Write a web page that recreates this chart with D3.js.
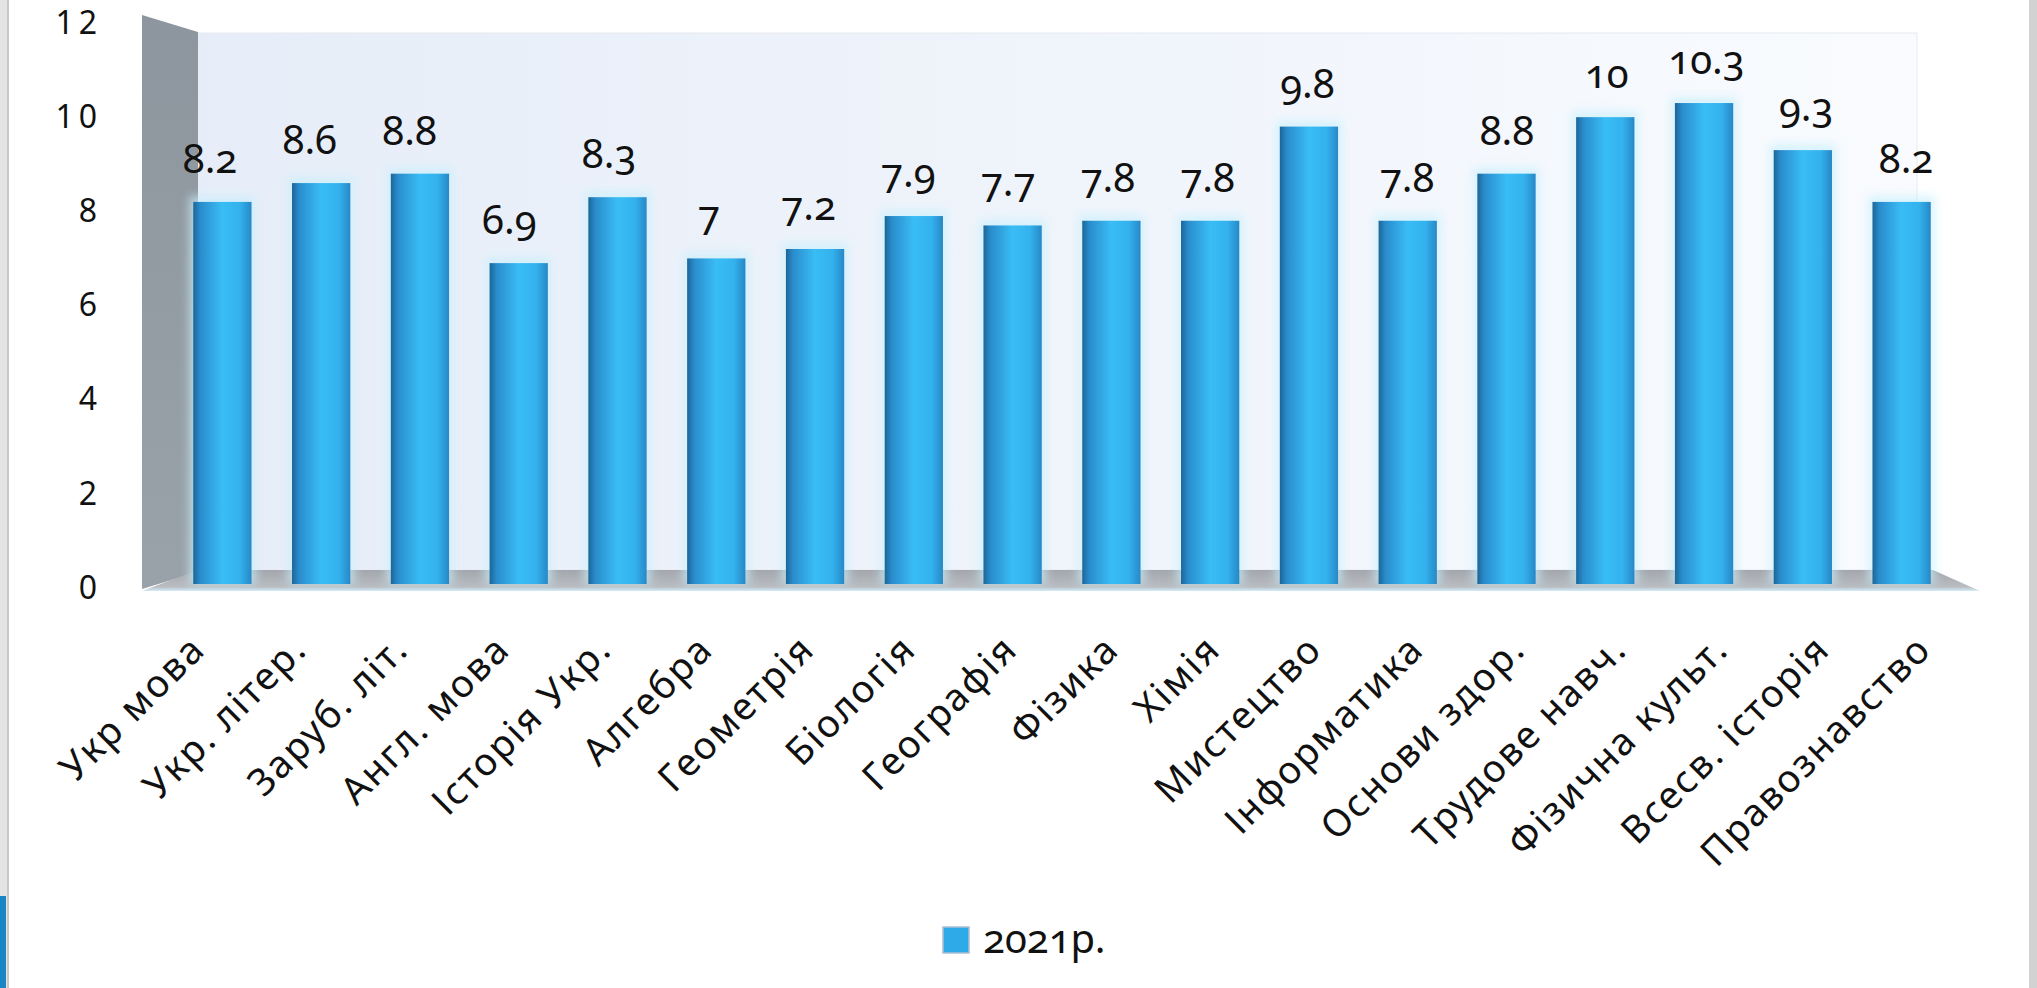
<!DOCTYPE html>
<html>
<head>
<meta charset="utf-8">
<script src="https://cdn.jsdelivr.net/npm/d3@7/dist/d3.min.js"></script>
<style>
  body { margin: 0; background: #fff; }
  text { font-family: "Noto Sans", "Open Sans", sans-serif; fill: #111; }
  .onum { font-variant-numeric: oldstyle-nums; }
</style>
</head>
<body>
<div id="chart"></div>
<script>
// Chart data
var subjects = ["Укр мова", "Укр. літер.", "Заруб. літ.", "Англ. мова", "Історія Укр.",
  "Алгебра", "Геометрія", "Біологія", "Географія", "Фізика", "Хімія", "Мистецтво",
  "Інформатика", "Основи здор.", "Трудове навч.", "Фізична культ.", "Всесв. історія",
  "Правознавство"];
var scores2021 = [8.2, 8.6, 8.8, 6.9, 8.3, 7, 7.2, 7.9, 7.7, 7.8, 7.8, 9.8, 7.8, 8.8, 10, 10.3, 9.3, 8.2];
var yTicks = [0, 2, 4, 6, 8, 10, 12];
var seriesName = "2021р.";

// SVG area
var svgWidth = 2037;
var svgHeight = 988;

var svg = d3.select("#chart")
  .append("svg")
  .attr("width", svgWidth)
  .attr("height", svgHeight);

var defs = svg.append("defs");

// cylinder-ish shading for the bars
var barGrad = defs.append("linearGradient").attr("id", "barGrad")
  .attr("x1", "0%").attr("x2", "100%").attr("y1", "0%").attr("y2", "0%");
[["0%", "#1b6698"], ["12%", "#2a8ccc"], ["50%", "#39bdf5"], ["80%", "#33b2ee"], ["100%", "#2788c6"]]
  .forEach(function(s) { barGrad.append("stop").attr("offset", s[0]).attr("stop-color", s[1]); });

var wallGrad = defs.append("linearGradient").attr("id", "wallGrad")
  .attr("x1", "0%").attr("x2", "100%");
wallGrad.append("stop").attr("offset", "0%").attr("stop-color", "#e6edf8");
wallGrad.append("stop").attr("offset", "100%").attr("stop-color", "#f9fbfe");

var sideGrad = defs.append("linearGradient").attr("id", "sideGrad")
  .attr("x1", "0%").attr("x2", "0%").attr("y1", "0%").attr("y2", "100%");
sideGrad.append("stop").attr("offset", "0%").attr("stop-color", "#8d969e");
sideGrad.append("stop").attr("offset", "100%").attr("stop-color", "#9aa2a9");

var floorGrad = defs.append("linearGradient").attr("id", "floorGrad")
  .attr("x1", "0%").attr("x2", "0%").attr("y1", "0%").attr("y2", "100%");
floorGrad.append("stop").attr("offset", "0%").attr("stop-color", "#a3a7ad");
floorGrad.append("stop").attr("offset", "80%").attr("stop-color", "#b9bdc2");
floorGrad.append("stop").attr("offset", "100%").attr("stop-color", "#d3ecf8");

defs.append("filter").attr("id", "glow")
  .attr("x", "-30%").attr("y", "-10%").attr("width", "160%").attr("height", "120%")
  .append("feGaussianBlur").attr("stdDeviation", 5);

// Scales
var yScale = d3.scaleLinear().domain([0, 12]).range([588, 23]);

var xScale = d3.scaleBand()
  .domain(subjects)
  .range([173, 1951])
  .paddingInner(0.41)
  .paddingOuter(0.205);

// 3D front edge sits a bit wider than the back, so labels spread a little
var xValueLabel = d3.scalePoint().domain(subjects).range([210, 1906]);
var xCatLabel = d3.scalePoint().domain(subjects).range([198, 1924]);

// page borders
svg.append("rect").attr("x", 0).attr("y", 0).attr("width", 8).attr("height", svgHeight).attr("fill", "#e4e4e4");
svg.append("rect").attr("x", 7).attr("y", 0).attr("width", 2).attr("height", svgHeight).attr("fill", "#c9c9c9");
svg.append("rect").attr("x", 0).attr("y", 896).attr("width", 6).attr("height", 92).attr("fill", "#1b86c6");
svg.append("rect").attr("x", 2029).attr("y", 0).attr("width", 8).attr("height", svgHeight).attr("fill", "#d2d2d2");

// back wall, side wall, floor
svg.append("rect")
  .attr("x", 198).attr("y", 33)
  .attr("width", 1917 - 198).attr("height", 570 - 33)
  .attr("fill", "url(#wallGrad)")
  .attr("stroke", "#e6eaf0").attr("stroke-width", 1);

svg.append("polygon")
  .attr("points", "142,15 198,32 198,572 142,589")
  .attr("fill", "url(#sideGrad)");

svg.append("polygon")
  .attr("points", "198,570 1933,570 1980,591 142,591")
  .attr("fill", "url(#floorGrad)");

// Bars
var bars = svg.append("g");

bars.selectAll("rect.halo")
  .data(scores2021)
  .enter()
  .append("rect")
  .attr("class", "halo")
  .attr("x", (d, i) => xScale(subjects[i]) - 4)
  .attr("y", d => yScale(d) - 6)
  .attr("width", xScale.bandwidth() + 8)
  .attr("height", d => yScale(0) - yScale(d) + 2)
  .attr("fill", "#c9f0fd")
  .attr("opacity", 0.7)
  .attr("filter", "url(#glow)");

bars.selectAll("rect.bar")
  .data(scores2021)
  .enter()
  .append("rect")
  .attr("class", "bar")
  .attr("x", (d, i) => xScale(subjects[i]))
  .attr("y", d => yScale(d))
  .attr("width", xScale.bandwidth())
  .attr("height", d => yScale(0) - yScale(d) - 4)
  .attr("fill", "url(#barGrad)");

// Value labels
svg.append("g").selectAll("text")
  .data(scores2021)
  .enter()
  .append("text")
  .attr("class", "onum")
  .attr("x", (d, i) => xValueLabel(subjects[i]))
  .attr("y", d => yScale(d) - 29)
  .attr("text-anchor", "middle")
  .attr("font-size", "40px")
  .text(d => String(d));

// Y axis
var leftAxis = d3.axisLeft(yScale).tickValues(yTicks).tickSize(0).tickPadding(0);
var yAxisG = svg.append("g")
  .attr("transform", "translate(102,0)")
  .call(leftAxis);
yAxisG.select(".domain").remove();
yAxisG.selectAll("text")
  .attr("font-size", "32px")
  .attr("letter-spacing", "5px")
  .attr("font-family", "\"Noto Sans\", sans-serif")
  .attr("fill", "#111");

// Category labels
svg.append("g").selectAll("text")
  .data(subjects)
  .enter()
  .append("text")
  .attr("text-anchor", "end")
  .attr("dy", "0.35em")
  .attr("font-size", "38px")
  .attr("letter-spacing", "2px")
  .attr("transform", d => `translate(${xCatLabel(d)},642) rotate(-45)`)
  .text(d => d);

// Legend
var legend = svg.append("g").attr("transform", "translate(943,927)");
legend.append("rect")
  .attr("width", 26).attr("height", 26)
  .attr("fill", "#2eaae9")
  .attr("stroke", "#a9bfd3").attr("stroke-width", 1.5);
legend.append("text")
  .attr("class", "onum")
  .attr("x", 40).attr("y", 26)
  .attr("font-size", "40px")
  .text(seriesName);
</script>
</body>
</html>
